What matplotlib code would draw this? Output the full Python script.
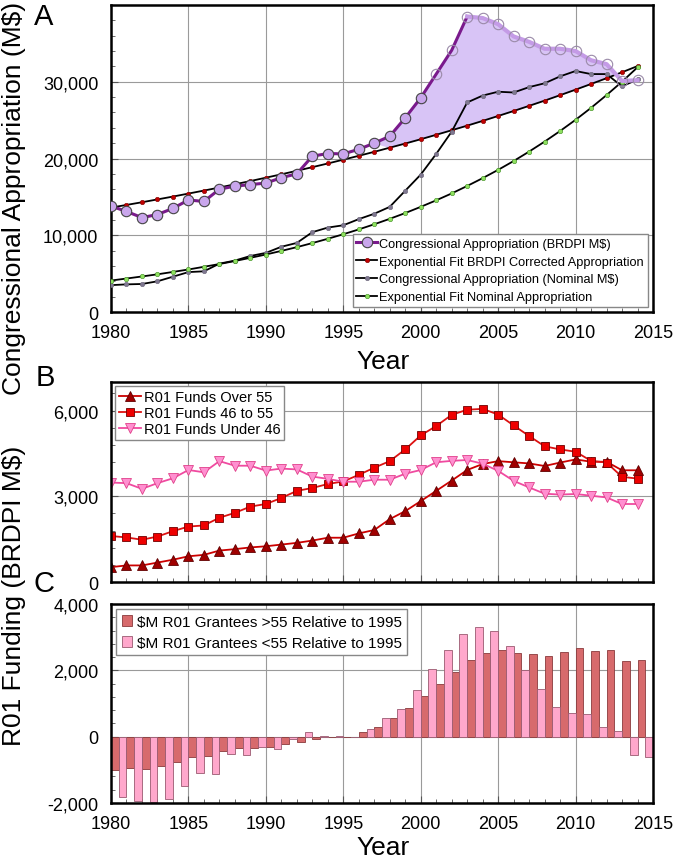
import numpy as np
import matplotlib
matplotlib.use('Agg')
import matplotlib.pyplot as plt
from matplotlib.ticker import MultipleLocator, FuncFormatter

plt.rcParams['font.family'] = ['Liberation Sans', 'DejaVu Sans']

years = np.arange(1980, 2015)

# panel A, thousands of M$
brdpi = [13.8, 13.1, 12.3, 12.7, 13.5, 14.6, 14.4, 16.0, 16.4, 16.6,
         16.8, 17.5, 18.0, 20.3, 20.65, 20.6, 21.2, 22.0, 22.9, 25.3,
         27.9, 31.0, 34.1, 38.5, 38.3, 37.5, 35.9, 35.2, 34.3, 34.3,
         34.0, 32.8, 32.3, 30.1, 30.2]
brdpi_fit = [13.60, 13.95, 14.30, 14.67, 15.04, 15.43, 15.82, 16.22, 16.64, 17.06,
             17.50, 17.94, 18.40, 18.87, 19.35, 19.85, 20.35, 20.87, 21.41, 21.95,
             22.51, 23.09, 23.68, 24.28, 24.90, 25.54, 26.19, 26.86, 27.54, 28.25,
             28.97, 29.71, 30.46, 31.24, 32.04]
nominal = [3.5, 3.6, 3.65, 4.0, 4.6, 5.2, 5.3, 6.3, 6.7, 7.3,
           7.7, 8.5, 9.0, 10.4, 11.0, 11.3, 12.1, 12.8, 13.7, 15.8,
           17.9, 20.6, 23.5, 27.3, 28.2, 28.7, 28.6, 29.3, 29.8, 30.7,
           31.4, 31.0, 31.0, 29.4, 30.3]
nominal_fit = [4.10, 4.36, 4.63, 4.91, 5.22, 5.54, 5.89, 6.25, 6.64, 7.06,
               7.49, 7.96, 8.45, 8.98, 9.54, 10.13, 10.76, 11.43, 12.14, 12.89,
               13.70, 14.55, 15.45, 16.42, 17.44, 18.52, 19.67, 20.90, 22.20, 23.58,
               25.04, 26.60, 28.26, 30.01, 31.88]

# panel B, thousands of BRDPI M$
over55 = [0.52, 0.58, 0.58, 0.68, 0.78, 0.90, 0.95, 1.10, 1.15, 1.21,
          1.25, 1.31, 1.37, 1.45, 1.55, 1.55, 1.70, 1.82, 2.20, 2.48,
          2.83, 3.19, 3.55, 3.92, 4.13, 4.23, 4.19, 4.15, 4.06, 4.18,
          4.29, 4.21, 4.21, 3.91, 3.91]
mid46_55 = [1.61, 1.56, 1.48, 1.59, 1.78, 1.94, 1.98, 2.25, 2.42, 2.64,
            2.73, 2.94, 3.19, 3.29, 3.43, 3.52, 3.75, 4.00, 4.23, 4.64,
            5.13, 5.46, 5.85, 6.03, 6.06, 5.86, 5.48, 5.11, 4.75, 4.64,
            4.56, 4.24, 4.18, 3.68, 3.62]
under46 = [3.48, 3.46, 3.26, 3.46, 3.63, 3.92, 3.84, 4.23, 4.07, 4.07,
           3.90, 3.97, 3.94, 3.69, 3.61, 3.51, 3.51, 3.58, 3.58, 3.79,
           3.92, 4.19, 4.24, 4.27, 4.14, 3.89, 3.54, 3.31, 3.09, 3.06,
           3.08, 3.02, 2.96, 2.73, 2.73]

# panel C, $M relative to 1995
rel_over55 = [-1010, -940, -960, -870, -770, -620, -590, -430, -350, -330,
              -300, -230, -150, -80, -10, 0, 150, 290, 570, 870,
              1220, 1600, 1940, 2320, 2520, 2610, 2530, 2500, 2420, 2550,
              2660, 2580, 2600, 2280, 2300]
rel_under55 = [-1830, -1930, -1980, -1880, -1500, -1100, -1120, -510, -540, -300,
               -360, -60, 150, 20, 20, 0, 230, 560, 820, 1420,
               2040, 2610, 3100, 3300, 3200, 2740, 2010, 1440, 880, 720,
               670, 280, 170, -560, -620]

W, H = 677, 862
fig = plt.figure(figsize=(W / 100, H / 100), dpi=100)


def axes_px(left, top, right, bottom):
    return fig.add_axes([left / W, 1 - bottom / H, (right - left) / W, (bottom - top) / H])


def style(ax, ymajor, yminor):
    ax.set_xlim(1980, 2015)
    ax.xaxis.set_major_locator(MultipleLocator(5))
    ax.xaxis.set_minor_locator(MultipleLocator(1))
    ax.yaxis.set_major_locator(MultipleLocator(ymajor))
    ax.yaxis.set_minor_locator(MultipleLocator(yminor))
    ax.yaxis.set_major_formatter(FuncFormatter(lambda v, p: f'{v:,.0f}'))
    ax.grid(True, which='major', color='#9a9a9a', lw=0.8)
    ax.set_axisbelow(True)
    ax.tick_params(which='both', direction='in', labelsize=13, pad=9, color='#555555')
    ax.tick_params(which='major', length=5)
    ax.tick_params(which='minor', length=3)
    for s in ax.spines.values():
        s.set_linewidth(1.8)


# ---------- panel A
axA = axes_px(111, 6, 653, 313)
yrA = years
bA = np.array(brdpi) * 1000
fA = np.array(brdpi_fit) * 1000
axA.fill_between(yrA, bA, fA, where=(yrA >= 1998) & (bA >= fA), interpolate=True,
                 color='#d8c4f6', lw=0, zorder=1)
h1, = axA.plot(yrA[:21], bA[:21], '-o', color='#7a1a8c', lw=2.2, ms=7.5,
               mfc='#c9a6ec', mec='#444444', mew=0.8, zorder=5,
               label='Congressional Appropriation (BRDPI M$)')
axA.plot(yrA[20:24], bA[20:24], '-', color='#7a1a8c', lw=2.2, zorder=4)
axA.plot(yrA[23:], bA[23:], '-', color='#c49be6', lw=3, zorder=4)
axA.plot(yrA[21:], bA[21:], 'o', ms=7.5, mfc='none', mec='#9a8aa8', mew=0.8, zorder=5)
h2, = axA.plot(yrA, fA, '-o', color='black', lw=1.3, ms=3.2, mfc='#c00000',
               mec='#800000', mew=0.4, zorder=3,
               label='Exponential Fit BRDPI Corrected Appropriation')
h3, = axA.plot(yrA, np.array(nominal) * 1000, '-o', color='black', lw=1.3, ms=3.2,
               mfc='#7f7890', mec='#6a6478', mew=0.4, zorder=3,
               label='Congressional Appropriation (Nominal M$)')
h4, = axA.plot(yrA, np.array(nominal_fit) * 1000, '-o', color='black', lw=1.3, ms=3.2,
               mfc='#8fe060', mec='#3c8a20', mew=0.4, zorder=3,
               label='Exponential Fit Nominal Appropriation')
style(axA, 10000, 2000)
axA.set_ylim(0, 40000)
axA.set_yticks([0, 10000, 20000, 30000])
leg = axA.legend(handles=[h1, h2, h3, h4], loc='lower right', fontsize=9.2,
                 frameon=True, fancybox=False, edgecolor='#888888', framealpha=1,
                 handlelength=1.6, handletextpad=0.2, labelspacing=0.45,
                 borderpad=0.3, borderaxespad=0.4)
leg.get_frame().set_linewidth(1.0)

# ---------- panel B
axB = axes_px(111, 383, 653, 583)
o1, = axB.plot(years, np.array(over55) * 1000, '-^', color='#cc0000', lw=1.3, ms=6.5,
               mfc='#a00000', mec='#600000', mew=0.6, label='R01 Funds Over 55')
o2, = axB.plot(years, np.array(mid46_55) * 1000, '-s', color='#dd1111', lw=1.3, ms=6,
               mfc='#ee0000', mec='#700000', mew=0.6, label='R01 Funds 46 to 55')
o3, = axB.plot(years, np.array(under46) * 1000, '-v', color='#f04aa0', lw=1.3, ms=7,
               mfc='#ff8fd0', mec='#e0408a', mew=0.6, label='R01 Funds Under 46')
style(axB, 3000, 600)
axB.set_ylim(0, 7000)
axB.tick_params(axis='x', labelbottom=False)
leg = axB.legend(handles=[o1, o2, o3], loc='upper left', fontsize=10.5,
                 frameon=True, fancybox=False, edgecolor='#888888', framealpha=1,
                 handlelength=1.5, handletextpad=0.2, labelspacing=0.15,
                 borderpad=0.25, borderaxespad=0.3)
leg.get_frame().set_linewidth(1.0)

# ---------- panel C
axC = axes_px(111, 605, 653, 804)
b1 = axC.bar(years, rel_over55, width=0.5, align='edge', color='#d76a6c',
             edgecolor='#8a3a3c', lw=0.6, label='$M R01 Grantees >55 Relative to 1995')
b2 = axC.bar(years + 0.5, rel_under55, width=0.5, align='edge', color='#ffa8cc',
             edgecolor='#9a5a70', lw=0.6, label='$M R01 Grantees <55 Relative to 1995')
style(axC, 2000, 400)
axC.set_ylim(-2000, 4000)
leg = axC.legend(handles=[b1, b2], loc='upper left', fontsize=11,
                 frameon=True, fancybox=False, edgecolor='#888888', framealpha=1,
                 handlelength=0.7, handleheight=0.7, handletextpad=0.3,
                 labelspacing=0.45, borderpad=0.35, borderaxespad=0.35)
leg.get_frame().set_linewidth(1.0)

# ---------- labels
fig.text(383 / W, 1 - 362 / H, 'Year', ha='center', va='center', fontsize=19)
fig.text(383 / W, 1 - 848 / H, 'Year', ha='center', va='center', fontsize=19)
fig.text(14 / W, 1 - 198 / H, 'Congressional Appropriation (M$)', rotation=90,
         ha='center', va='center', fontsize=19)
fig.text(14 / W, 1 - 596 / H, 'R01 Funding (BRDPI M$)', rotation=90,
         ha='center', va='center', fontsize=19)
fig.text(44 / W, 1 - 17 / H, 'A', ha='center', va='center', fontsize=21)
fig.text(45 / W, 1 - 378 / H, 'B', ha='center', va='center', fontsize=21)
fig.text(44 / W, 1 - 584 / H, 'C', ha='center', va='center', fontsize=21)

fig.savefig('out.png', dpi=100)
